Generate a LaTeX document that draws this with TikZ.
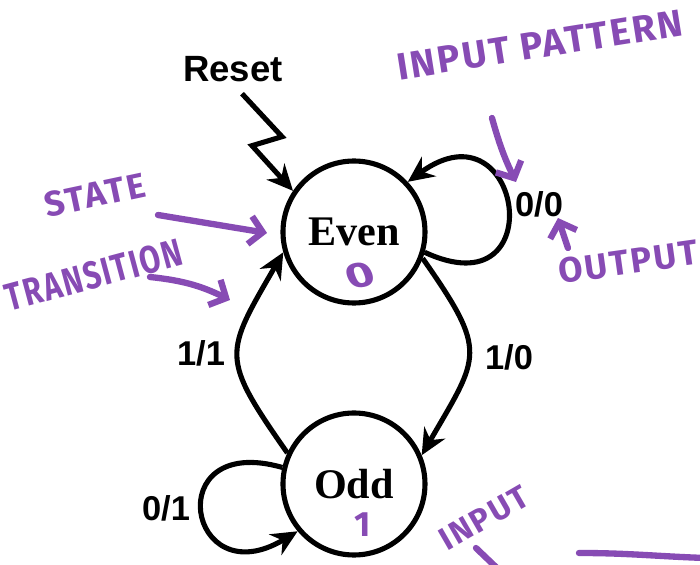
\documentclass[tikz,border=0pt]{standalone}
\usepackage{fontspec}
\setmainfont{Liberation Serif}
\newfontfamily\arialfont{Liberation Sans}
\newfontfamily\penfont[LetterSpace=6]{Fira Sans}
\usepackage{tikz}
\usetikzlibrary{arrows.meta}
\usetikzlibrary{positioning}

\definecolor{pen}{RGB}{135,75,180}

\tikzset{
	state/.style={draw, circle, line width=1.45pt, minimum size=1.42cm, inner sep=0pt,
		font=\fontsize{12}{14}\selectfont\bfseries},
	trans/.style={line width=1.45pt, -{Stealth[length=2.6mm,width=2.4mm]}},
	io/.style={font=\arialfont\bfseries\fontsize{9.8}{12}\selectfont},
	scribble/.style={text=pen, font=\penfont\bfseries\fontsize{10}{12}\selectfont},
	pointer/.style={pen, line width=1.8pt, line cap=round,
		-{Straight Barb[length=1.3mm,width=2.8mm]}}
}

\begin{document}
\begin{tikzpicture}
	\useasboundingbox (0,0) rectangle (7,5.65);
	\clip (0,0) rectangle (7,5.65);

	\node[state] (even) at (3.54,3.33) {Even};
	\node[state] (odd) at (3.54,0.81) {Odd};
	\node[font=\arialfont\bfseries\fontsize{10.4}{12}\selectfont] (reset) at (2.33,4.955) {Reset};

	% reset arrow
	\draw[trans] ([shift={(0.09,0.01)}]reset.south) -- ++(0.40,-0.43) -- ++(-0.30,-0.09) -- (even.146);

	% transitions
	\draw[trans] (even.-16) to[out=-25,in=36,looseness=5] (even.43);
	\draw[trans] (even.-21) to[out=-55,in=60,looseness=1.5] (odd.23);
	\draw[trans] (odd.155) to[out=125,in=-120,looseness=1.5] (even.196);
	\draw[trans] (odd.167) to[out=164,in=211,looseness=5] (odd.220);

	\node[io] (l00) at (5.39,3.61) {0/0};
	\node[io] (l10) at (5.09,2.08) {1/0};
	\node[io] (l11) at (2.01,2.12) {1/1};
	\node[io] (l01) at (1.66,0.57) {0/1};

	% notes in pen
	\node[scribble, rotate=12] (statenote) at (0.95,3.70) {STATE};
	\node[scribble, rotate=15, xscale=0.86, yscale=1.1] (transnote) at (0.94,2.90) {TRANSITION};
	\node[scribble, rotate=9, scale=1.08] (patternnote) at (5.40,5.20) {INPUT PATTERN};
	\node[scribble, rotate=8] (outnote) at (6.28,3.03) {OUTPUT};
	\node[scribble, rotate=30, scale=0.92] (innote) at (4.84,0.47) {INPUT};
	\node[scribble, xscale=1.4, rotate=15] (evenout) at (3.60,2.90) {0};
	\node[scribble] (oddout) at (3.63,0.40) {1};

	\coordinate (stateTail) at (1.58,3.50);
	\coordinate (stateTip) at (2.67,3.32);
	\coordinate (transTail) at (1.50,2.88);
	\coordinate (transTip) at (2.30,2.65);
	\coordinate (patternTail) at (4.92,4.47);
	\coordinate (patternTip) at (5.16,3.83);
	\coordinate (outTail) at (5.68,3.17);
	\coordinate (outTip) at (5.58,3.47);
	\coordinate (inTail) at (4.76,0.17);
	\coordinate (inTip) at (4.99,-0.05);
	\coordinate (lineStart) at (5.79,0.12);
	\coordinate (lineEnd) at (7.05,0.07);

	\draw[pointer] (stateTail) -- (stateTip);
	\draw[pointer] (transTail) to[bend left=10] (transTip);
	\draw[pointer] (patternTail) to[bend right=5] (patternTip);
	\draw[pointer] (outTail) -- (outTip);
	\draw[pen, line width=1.8pt, line cap=round] (inTail) -- (inTip);
	\draw[pen, line width=1.8pt, line cap=round] (lineStart) to[out=0,in=178] (lineEnd);
\end{tikzpicture}
\end{document}
